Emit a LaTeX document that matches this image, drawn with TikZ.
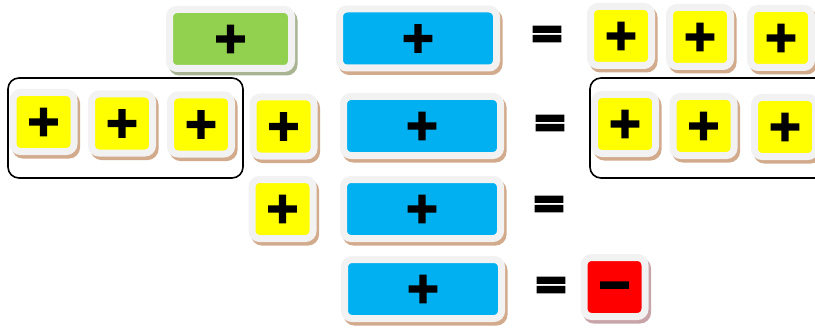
\documentclass[tikz,border=0pt]{standalone}
\usepackage{fontspec}
\usepackage{tikz}
\newfontfamily\signface[FakeBold=6]{DejaVu Sans Bold}
\newcommand{\signfont}{\signface\fontsize{42}{42}\selectfont}
\definecolor{TileGray}{HTML}{F2F2F2}
\definecolor{Yellow}{HTML}{FFFF00}
\definecolor{SkyBlue}{HTML}{00B0F0}
\definecolor{LeafGreen}{HTML}{92D050}
\definecolor{SignRed}{HTML}{FF0000}
\definecolor{TanShadow}{HTML}{D2AA8C}
\definecolor{GreenShadow}{HTML}{A9B592}
\definecolor{RedShadow}{HTML}{C8A4A8}
\tikzset{
  tile/.style={draw=TileGray, line width=7pt, rounded corners=7.5pt, inner sep=0pt,
    minimum height=59pt, font=\signfont, fill=#1},
  tile/.default=Yellow,
  cast/.style={preaction={draw=#1, fill=#1, transform canvas={shift={(2.5pt,-3.5pt)}}}},
  cast/.default=TanShadow,
  square/.style={tile=#1, cast, minimum width=61pt},
  long/.style={tile=#1, cast, minimum width=157pt},
  sign/.style={font=\signfont, inner sep=0pt},
  group/.style={draw=black, line width=1.6pt, rounded corners=11pt}
}

\begin{document}
\begin{tikzpicture}[x=1pt, y=-1pt]
    \useasboundingbox (0,0) rectangle (815,329);

    % Grouping frames
    \draw[group] (8,78) rectangle (243,178);
    \draw[group] (590,78) rectangle (840,178);

    % Row one
    \node[tile=LeafGreen, cast=GreenShadow, minimum width=122pt] (green) at (230.5,39) {+};
    \node[long=SkyBlue] (blue1) at (418,38.5) {+};
    \node[sign] (eq1) at (547,37) {=};
    \node[square] (r1a) at (621,36) {+};
    \node[square] (r1b) at (700,37) {+};
    \node[square] (r1c) at (781,38) {+};

    % Row two
    \node[square] (l1) at (43.5,122) {+};
    \node[square] (l2) at (122,123.5) {+};
    \node[square] (l3) at (201,124.5) {+};
    \node[square] (l4) at (283.5,126.5) {+};
    \node[long=SkyBlue] (blue2) at (422,126) {+};
    \node[sign] (eq2) at (550,126) {=};
    \node[square] (r2a) at (625,124) {+};
    \node[square] (r2b) at (703.5,126) {+};
    \node[square] (r2c) at (785,127) {+};

    % Row three
    \node[square] (l5) at (282.5,209) {+};
    \node[long=SkyBlue] (blue3) at (422,209) {+};
    \node[sign] (eq3) at (549,207) {=};

    % Row four
    \node[long=SkyBlue] (blue4) at (423,289) {+};
    \node[sign] (eq4) at (551,288) {=};
    \node[tile=SignRed, cast=RedShadow, minimum width=61pt] (red) at (614.5,287) {};
    \node[sign] (minus) at ([yshift=-3.5pt]red.center) {−};
\end{tikzpicture}
\end{document}
